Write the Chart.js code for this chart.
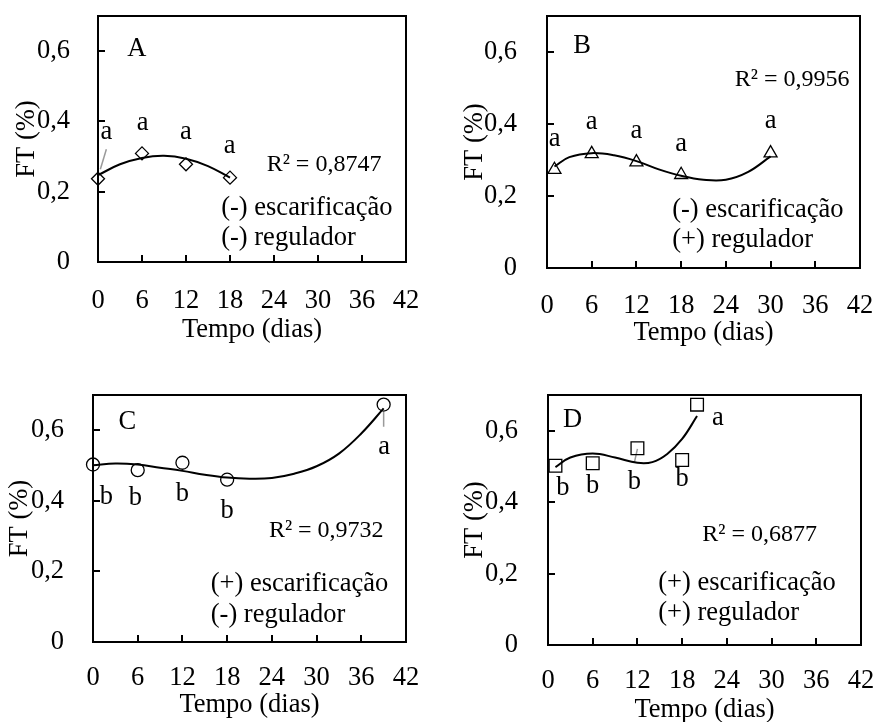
<!DOCTYPE html>
<html>
<head>
<meta charset="utf-8">
<script src="https://cdn.jsdelivr.net/npm/chart.js@4.4.1/dist/chart.umd.min.js"></script>
<style>
  html, body { margin: 0; padding: 0; background: #fff; width: 873px; height: 722px; overflow: hidden; }
  canvas { position: absolute; }
</style>
</head>
<body>
<canvas id="cA"></canvas>
<canvas id="cB"></canvas>
<canvas id="cC"></canvas>
<canvas id="cD"></canvas>
<script>
// Axis ticks shared by the four panels
const xTicks = [0, 6, 12, 18, 24, 30, 36, 42];
const yTicks = [0, 0.2, 0.4, 0.6];
const yTickLabels = ['0', '0,2', '0,4', '0,6'];

// A: (-) escarificação, (-) regulador
const daysA = [0, 6, 12, 18];
const ftA = [0.237, 0.309, 0.278, 0.240];
const lettersA = ['a', 'a', 'a', 'a'];
const fitDaysA = [0, 3, 6, 9, 12, 15, 18];
const fitA = [0.247, 0.278, 0.296, 0.302, 0.294, 0.273, 0.240];

// B: (-) escarificação, (+) regulador
const daysB = [1, 6, 12, 18, 30];
const ftB = [0.273, 0.317, 0.294, 0.259, 0.319];
const lettersB = ['a', 'a', 'a', 'a', 'a'];
const fitDaysB = [1, 3, 6, 9, 12, 15, 18, 21, 24, 27, 30];
const fitB = [0.282, 0.308, 0.319, 0.313, 0.297, 0.274, 0.256, 0.245, 0.245, 0.267, 0.310];

// C: (+) escarificação, (-) regulador
const daysC = [0, 6, 12, 18, 39];
const ftC = [0.503, 0.487, 0.508, 0.460, 0.673];
const lettersC = ['b', 'b', 'b', 'b', 'a'];
const fitDaysC = [0, 3, 6, 9, 12, 15, 18, 21, 24, 27, 30, 33, 36, 39];
const fitC = [0.501, 0.506, 0.503, 0.494, 0.485, 0.474, 0.466, 0.463, 0.465, 0.477, 0.498, 0.534, 0.591, 0.662];

// D: (+) escarificação, (+) regulador
const daysD = [1, 6, 12, 18, 20];
const ftD = [0.502, 0.509, 0.551, 0.518, 0.673];
const lettersD = ['b', 'b', 'b', 'b', 'a'];
const fitDaysD = [1, 3, 6, 9, 12, 14, 16, 18, 20];
const fitD = [0.498, 0.525, 0.536, 0.525, 0.510, 0.512, 0.535, 0.577, 0.641];

const FONT = "'Liberation Serif', 'Times New Roman', serif";
const SIZE = 26.5;
const R2_SIZE = 24;

const zip = (xs, ys) => xs.map((v, i) => ({ x: v, y: ys[i] }));

// layout of each panel: canvas box, axis sizes, where notes sit (data units)
const panels = [
  {
    id: 'cA', box: [0, 0, 436, 361], yw: 98, xh: 99, padTop: 16, padRight: 30,
    yTitlePad: 11, yTickPad: 20, xTickPad: 15, xTitlePad: 15,
    days: daysA, ft: ftA, fitDays: fitDaysA, fit: fitA, letters: lettersA,
    marker: 'rectRot', r: 6.5,
    letterAt: [[1.14, 0.350], [6.1, 0.376], [12, 0.350], [17.95, 0.311]],
    leader: [[0.32, 0.264], [1.14, 0.321]],
    notes: [
      { text: 'A', x: 5.3, y: 0.607, align: 'center' },
      { text: 'R² = 0,8747', x: 23.0, y: 0.278, size: R2_SIZE },
      { text: '(-) escarificação', x: 16.8, y: 0.154 },
      { text: '(-) regulador', x: 16.8, y: 0.069 },
    ],
  },
  {
    id: 'cB', box: [436, 0, 437, 361], yw: 111, xh: 93, padTop: 16, padRight: 13,
    yTitlePad: 23, yTickPad: 22, xTickPad: 14, xTitlePad: 12,
    days: daysB, ft: ftB, fitDays: fitDaysB, fit: fitB, letters: lettersB,
    marker: 'triangle', r: 7.5,
    letterAt: [[1.04, 0.340], [6, 0.386], [12, 0.362], [18, 0.324], [30, 0.388]],
    leader: null,
    notes: [
      { text: 'B', x: 4.7, y: 0.617, align: 'center' },
      { text: 'R² = 0,9956', x: 25.2, y: 0.524, size: R2_SIZE },
      { text: '(-) escarificação', x: 16.8, y: 0.161 },
      { text: '(+) regulador', x: 16.8, y: 0.077 },
    ],
  },
  {
    id: 'cC', box: [0, 361, 436, 361], yw: 93, xh: 80, padTop: 34, padRight: 30,
    yTitlePad: 4, yTickPad: 21, xTickPad: 12, xTitlePad: 1,
    days: daysC, ft: ftC, fitDays: fitDaysC, fit: fitC, letters: lettersC,
    marker: 'circle', r: 6.5,
    letterAt: [[1.8, 0.390], [5.7, 0.388], [12, 0.400], [18, 0.352], [39.05, 0.532]],
    leader: [[39, 0.652], [39, 0.610]],
    notes: [
      { text: 'C', x: 4.6, y: 0.623, align: 'center' },
      { text: 'R² = 0,9732', x: 23.6, y: 0.316, size: R2_SIZE },
      { text: '(+) escarificação', x: 15.8, y: 0.163 },
      { text: '(-) regulador', x: 15.8, y: 0.076 },
    ],
  },
  {
    id: 'cD', box: [436, 361, 437, 365], yw: 112, xh: 81, padTop: 34, padRight: 12,
    yTitlePad: 23, yTickPad: 22, xTickPad: 12, xTitlePad: 0,
    days: daysD, ft: ftD, fitDays: fitDaysD, fit: fitD, letters: lettersD,
    marker: 'rect', r: 9,
    letterAt: [[2.0, 0.420], [6, 0.427], [11.6, 0.437], [18, 0.444], [22.8, 0.615]],
    leader: [[12, 0.549], [11.6, 0.512]],
    notes: [
      { text: 'D', x: 3.3, y: 0.629, align: 'center' },
      { text: 'R² = 0,6877', x: 20.7, y: 0.310, size: R2_SIZE },
      { text: '(+) escarificação', x: 14.8, y: 0.174 },
      { text: '(+) regulador', x: 14.8, y: 0.089 },
    ],
  },
];

// frame, inward tick marks, significance letters and text notes
function decor(p) {
  return {
    id: 'decor',
    afterDraw(chart) {
      const { ctx, chartArea: a, scales: { x, y } } = chart;
      ctx.save();
      ctx.strokeStyle = '#000';
      ctx.lineWidth = 2;
      ctx.strokeRect(a.left, a.top, a.right - a.left, a.bottom - a.top);
      ctx.beginPath();
      xTicks.forEach(v => {
        const px = Math.round(x.getPixelForValue(v));
        ctx.moveTo(px, a.bottom);
        ctx.lineTo(px, a.bottom - 7);
      });
      yTicks.forEach(v => {
        const py = Math.round(y.getPixelForValue(v));
        ctx.moveTo(a.left, py);
        ctx.lineTo(a.left + 7, py);
      });
      ctx.stroke();

      ctx.fillStyle = '#000';
      p.notes.forEach(n => {
        ctx.font = `${n.size || SIZE}px ${FONT}`;
        ctx.textAlign = n.align || 'left';
        ctx.textBaseline = 'middle';
        ctx.fillText(n.text, x.getPixelForValue(n.x), y.getPixelForValue(n.y));
      });
      ctx.font = `${SIZE}px ${FONT}`;
      ctx.textAlign = 'center';
      ctx.textBaseline = 'alphabetic';
      p.letters.forEach((t, i) => {
        const [lx, ly] = p.letterAt[i];
        ctx.fillText(t, x.getPixelForValue(lx), y.getPixelForValue(ly));
      });
      ctx.restore();
    },
  };
}

function makePanel(p) {
  const cv = document.getElementById(p.id);
  const [l, t, w, h] = p.box;
  cv.style.left = l + 'px';
  cv.style.top = t + 'px';
  cv.width = w;
  cv.height = h;
  cv.style.width = w + 'px';
  cv.style.height = h + 'px';

  const datasets = [
    {
      data: zip(p.days, p.ft),
      pointStyle: p.marker,
      pointRadius: p.r,
      borderColor: '#000',
      backgroundColor: 'rgba(0,0,0,0)',
      pointBorderWidth: 1.3,
      clip: false,
    },
    {
      data: zip(p.fitDays, p.fit),
      showLine: true,
      borderColor: '#000',
      borderWidth: 2,
      pointRadius: 0,
      tension: 0.4,
      clip: false,
    },
  ];
  if (p.leader) {
    datasets.push({
      data: p.leader.map(([x, y]) => ({ x, y })),
      showLine: true,
      borderColor: '#9a9a9a',
      borderWidth: 1.5,
      pointRadius: 0,
      clip: false,
    });
  }

  const font = { family: FONT, size: SIZE };
  const dropPad = s => { s.paddingTop = s.paddingBottom = s.paddingLeft = s.paddingRight = 0; };

  new Chart(cv, {
    type: 'scatter',
    data: { datasets },
    options: {
      responsive: false,
      animation: false,
      devicePixelRatio: 1,
      events: [],
      layout: { padding: { top: p.padTop, right: p.padRight, left: 0, bottom: 0 } },
      plugins: { legend: { display: false }, tooltip: { enabled: false } },
      scales: {
        x: {
          type: 'linear',
          min: 0,
          max: 42,
          afterBuildTicks: s => { s.ticks = xTicks.map(v => ({ value: v })); },
          afterFit: s => { s.height = p.xh; dropPad(s); },
          grid: { display: false },
          border: { display: false },
          ticks: { color: '#000', font, padding: p.xTickPad, maxRotation: 0, autoSkip: false },
          title: { display: true, text: 'Tempo (dias)', color: '#000', font, padding: { top: 0, bottom: p.xTitlePad } },
        },
        y: {
          type: 'linear',
          min: 0,
          max: 0.7,
          afterBuildTicks: s => { s.ticks = yTicks.map(v => ({ value: v })); },
          afterFit: s => { s.width = p.yw; dropPad(s); },
          grid: { display: false },
          border: { display: false },
          ticks: {
            color: '#000',
            font,
            padding: p.yTickPad,
            callback: v => yTickLabels[yTicks.indexOf(v)],
          },
          title: { display: true, text: 'FT (%)', color: '#000', font, padding: { top: p.yTitlePad, bottom: 0 } },
        },
      },
    },
    plugins: [decor(p)],
  });
}

panels.forEach(makePanel);
</script>
</body>
</html>
